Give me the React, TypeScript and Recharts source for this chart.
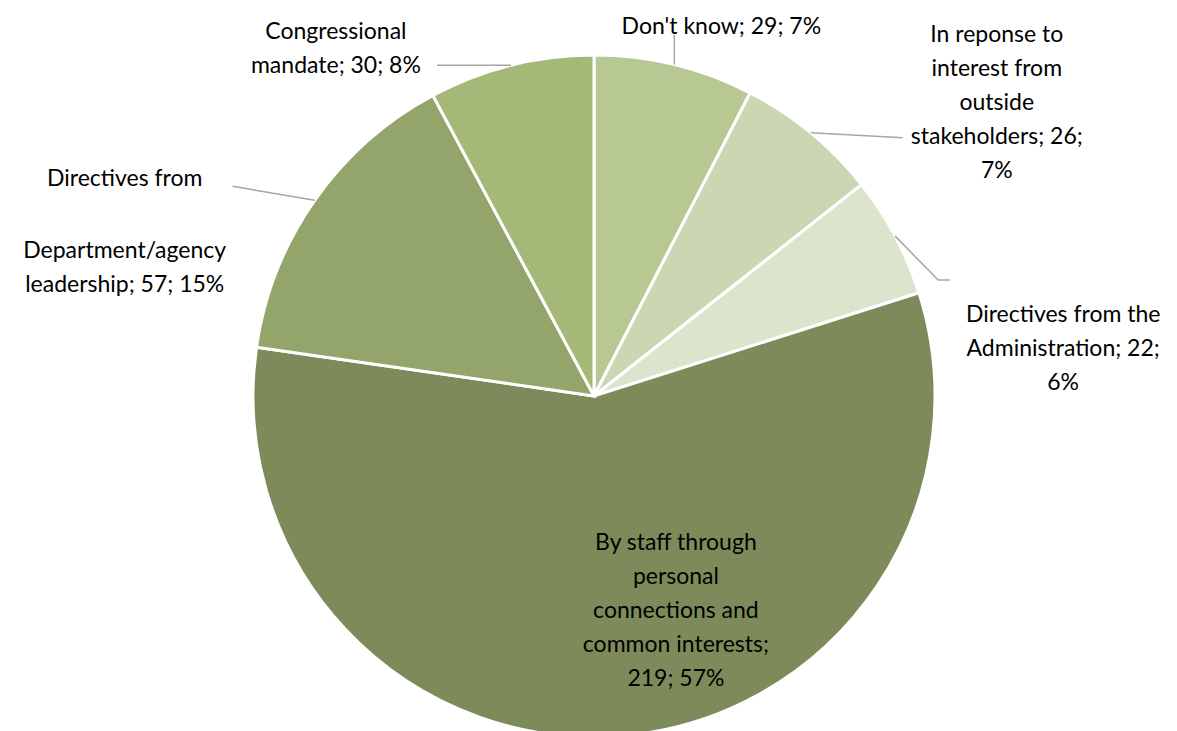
import { PieChart, Pie, Cell } from "recharts";

// Data
const categories = [
  "Don't know",
  "In reponse to interest from outside stakeholders",
  "Directives from the Administration",
  "By staff through personal connections and common interests",
  "Directives from Department/agency leadership",
  "Congressional mandate",
];
const counts = [29, 26, 22, 219, 57, 30];
const shares = [7, 7, 6, 57, 15, 8];

// Style
const COLORS = ["#b7c893", "#cbd6b3", "#dce4cd", "#7d8b5a", "#94a56b", "#a4b978"];
const FONT = "Lato, 'Noto Sans', sans-serif";
const FONT_SIZE = 23;
const LINE_H = 34;
const WRAP = 19;

// label placement, offsets from the slice's outer edge at its mid angle
const LABEL_LAYOUT = [
  { dx: 47, dy: -40, gap: 0, leader: [[0, 0], [0, -30]] },
  { dx: 186, dy: -100, gap: 0, leader: [[0, 0], [92, 5]] },
  { dx: 168, dy: 77, gap: 0, leader: [[0, 0], [43, 44], [55, 44]] },
  { dx: 54, dy: -195, gap: 0, leader: [] },
  { dx: -190, dy: -23, gap: 38, leader: [[0, 0], [-82, -14]] },
  { dx: -175, dy: -35, gap: 0, leader: [[0, 0], [-74, 0]] },
];

const data = categories.map((name, i) => ({
  name,
  value: counts[i],
  share: shares[i],
}));

const RADIAN = Math.PI / 180;

function wrapText(text: string, max: number) {
  const words = text.split(" ");
  const lines: string[] = [];
  let cur = "";
  words.forEach((w) => {
    const next = cur ? cur + " " + w : w;
    if (next.length > max && cur) {
      lines.push(cur);
      cur = w;
    } else {
      cur = next;
    }
  });
  if (cur) lines.push(cur);
  return lines;
}

function renderLabel(props: any) {
  const { cx, cy, midAngle, outerRadius, index, name, value, payload } = props;
  const layout = LABEL_LAYOUT[index];
  const ex = cx + outerRadius * Math.cos(-midAngle * RADIAN);
  const ey = cy + outerRadius * Math.sin(-midAngle * RADIAN);
  const share = payload?.share ?? shares[index];
  const lines = wrapText(`${name}; ${value}; ${share}%`, WRAP);
  const tx = ex + layout.dx;
  const ty = ey + layout.dy;
  const pts = layout.leader.map(([x, y]) => `${ex + x},${ey + y}`).join(" ");
  return (
    <g key={`label-${index}`}>
      {layout.leader.length > 0 && (
        <polyline points={pts} fill="none" stroke="#a6a6a6" strokeWidth={1.5} />
      )}
      <text
        x={tx}
        y={ty}
        textAnchor="middle"
        dominantBaseline="central"
        fontFamily={FONT}
        fontSize={FONT_SIZE}
        fill="#000"
      >
        {lines.map((line, i) => (
          <tspan
            key={i}
            x={tx}
            y={ty + i * LINE_H + (i > 0 ? layout.gap : 0)}
          >
            {line}
          </tspan>
        ))}
      </text>
    </g>
  );
}

export default function App() {
  return (
    <div
      style={{
        position: "absolute",
        left: 0,
        top: 0,
        width: 1177,
        height: 731,
        background: "#fff",
        overflow: "hidden",
      }}
    >
      <PieChart
        width={1177}
        height={731}
        margin={{ top: 0, right: 0, bottom: 0, left: 0 }}
      >
        <Pie
          data={data}
          dataKey="value"
          nameKey="name"
          cx={594}
          cy={396}
          outerRadius={341}
          startAngle={90}
          endAngle={-270}
          stroke="#fff"
          strokeWidth={3}
          label={renderLabel}
          labelLine={false}
          isAnimationActive={false}
        >
          {data.map((entry, index) => (
            <Cell key={`cell-${index}`} fill={COLORS[index]} />
          ))}
        </Pie>
      </PieChart>
    </div>
  );
}
